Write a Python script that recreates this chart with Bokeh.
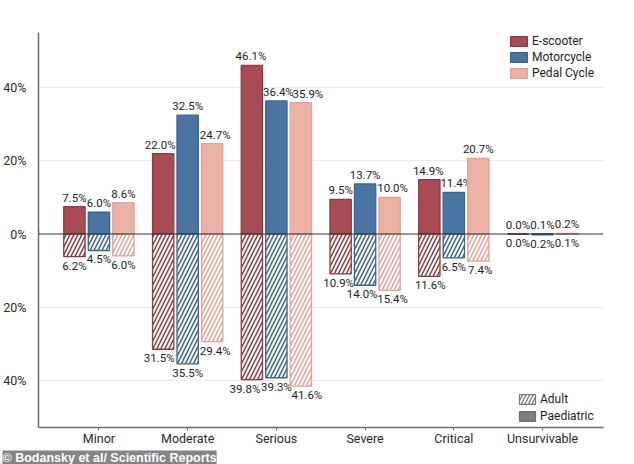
from bokeh.plotting import figure
from bokeh.models import ColumnDataSource, FixedTicker, Span, Legend, LegendItem, Title, Range1d
from bokeh.core.properties import value
from bokeh.embed import file_html
from bokeh.resources import INLINE

categories = ["Minor", "Moderate", "Serious", "Severe", "Critical", "Unsurvivable"]
vehicles = ["E-scooter", "Motorcycle", "Pedal Cycle"]

paed_escooter = [7.5, 22.0, 46.1, 9.5, 14.9, 0.0]
paed_motorcycle = [6.0, 32.5, 36.4, 13.7, 11.4, 0.1]
paed_pedal = [8.6, 24.7, 35.9, 10.0, 20.7, 0.2]

adult_escooter = [6.2, 31.5, 39.8, 10.9, 11.6, 0.0]
adult_motorcycle = [4.5, 35.5, 39.3, 14.0, 6.5, 0.2]
adult_pedal = [6.0, 29.4, 41.6, 15.4, 7.4, 0.1]

y_ticks = [-40, -20, 0, 20, 40]
y_tick_labels = ["40%", "20%", "0%", "20%", "40%"]

# horizontal pixel nudges of value labels (to avoid overlaps, as in the original)
paed_nudge = [[0, -3, -1, 0, -1, 0], [0, 0, 2, 0, 2, 0], [0, 3, 7, 3, 0, 0]]
adult_nudge = [[0, -4, -7, -2, 1, 0], [0, 0, 0, -3, 0, 0], [0, 3, 6, 3, 2, 0]]

paed = [paed_escooter, paed_motorcycle, paed_pedal]
adult = [adult_escooter, adult_motorcycle, adult_pedal]
fills = ["#a84b53", "#4a74a1", "#ecb1a5"]
edges = ["#8f3a43", "#3a6391", "#e4a195"]
offsets = [-0.276, 0.0, 0.276]
bar_w = 0.24
FONT = "Roboto"

p = figure(width=634, height=464, output_backend="svg", toolbar_location=None,
           x_range=Range1d(-0.681, 5.687), y_range=Range1d(-52.9, 55.1),
           min_border_left=38, min_border_right=31, min_border_top=32, min_border_bottom=31)
p.outline_line_color = None
p.background_fill_color = "white"
p.border_fill_color = "white"

p.xgrid.visible = False
p.ygrid.ticker = FixedTicker(ticks=[-40, -20, 20, 40])
p.ygrid.grid_line_color = "#ececec"
p.ygrid.grid_line_width = 1

p.yaxis.ticker = FixedTicker(ticks=y_ticks)
p.yaxis.major_label_overrides = {t: l for t, l in zip(y_ticks, y_tick_labels)}
p.yaxis.major_tick_line_color = None
p.yaxis.minor_tick_line_color = None
p.yaxis.axis_line_color = "#6e6e6e"
p.yaxis.axis_line_width = 1.5
p.yaxis.major_label_standoff = 6
p.yaxis.major_label_text_font = FONT
p.yaxis.major_label_text_font_size = "12.5px"
p.yaxis.major_label_text_color = "#2a2a2a"

p.xaxis.ticker = FixedTicker(ticks=list(range(len(categories))))
p.xaxis.major_label_overrides = {i: c for i, c in enumerate(categories)}
p.xaxis.minor_tick_line_color = None
p.xaxis.major_tick_in = 0
p.xaxis.major_tick_out = 3
p.xaxis.major_tick_line_color = "#6e6e6e"
p.xaxis.axis_line_color = "#6e6e6e"
p.xaxis.axis_line_width = 1.5
p.xaxis.major_label_standoff = 0
p.xaxis.major_label_text_font = FONT
p.xaxis.major_label_text_font_size = "12.5px"
p.xaxis.major_label_text_color = "#2a2a2a"

paed_renderers = []
for k in range(3):
    xs = [i + offsets[k] for i in range(len(categories))]
    src = ColumnDataSource(dict(
        x=xs,
        top=paed[k],
        bottom=[-v for v in adult[k]],
        ptxt=["%.1f%%" % v for v in paed[k]],
        atxt=["%.1f%%" % v for v in adult[k]],
        pdx=paed_nudge[k],
        adx=adult_nudge[k],
    ))
    r = p.vbar(x="x", top="top", bottom=0, width=bar_w, source=src,
               fill_color=fills[k], line_color=edges[k], line_width=1.3)
    paed_renderers.append(r)
    p.vbar(x="x", top=0, bottom="bottom", width=bar_w, source=src,
           fill_color="white", line_color=edges[k], line_width=1.3,
           hatch_pattern="/", hatch_color=edges[k], hatch_scale=8, hatch_weight=1.5)
    p.text(x="x", y="top", text="ptxt", source=src, text_align="center",
           text_baseline="bottom", x_offset="pdx", y_offset=-2, text_font=value(FONT),
           text_font_size="11.5px", text_color="#1e1e1e")
    p.text(x="x", y="bottom", text="atxt", source=src, text_align="center",
           text_baseline="top", x_offset="adx", y_offset=2, text_font=value(FONT),
           text_font_size="11.5px", text_color="#1e1e1e")

p.add_layout(Span(location=0, dimension="width", line_color="#333333", line_width=1.2))

leg1 = Legend(items=[LegendItem(label=vehicles[k], renderers=[paed_renderers[k]]) for k in range(3)],
              location=(470, 347), orientation="vertical", padding=0, spacing=2,
              glyph_width=21, glyph_height=12, label_height=12, label_standoff=3,
              label_text_font=FONT, label_text_font_size="12px", label_text_color="#1e1e1e",
              background_fill_alpha=0, border_line_color=None, margin=0)
p.add_layout(leg1)

d_adult = p.vbar(x=[-10], top=[1], width=bar_w, fill_color="white", line_color="#7a7a7a",
                 line_width=1.2, hatch_pattern="/", hatch_color="#7a7a7a", hatch_scale=7, hatch_weight=1.3)
d_paed = p.vbar(x=[-10], top=[1], width=bar_w, fill_color="#7f7f7f", line_color="#6e6e6e", line_width=1.2)
leg2 = Legend(items=[LegendItem(label="Adult", renderers=[d_adult]),
                     LegendItem(label="Paediatric", renderers=[d_paed])],
              location=(479, 4), orientation="vertical", padding=0, spacing=3,
              glyph_width=20, glyph_height=12, label_height=12, label_standoff=3,
              label_text_font=FONT, label_text_font_size="12px", label_text_color="#1e1e1e",
              background_fill_alpha=0, border_line_color=None, margin=0)
p.add_layout(leg2)

wm = Title(text="\u00a9 Bodansky et al/ Scientific Reports", align="left", offset=-36,
           standoff=0, text_font="Liberation Sans", text_font_style="bold",
           text_font_size="12.5px", text_color="white",
           background_fill_color="#7b7b7b", background_fill_alpha=0.92)
p.add_layout(wm, "below")

open("out.html", "w").write(file_html(p, INLINE))
